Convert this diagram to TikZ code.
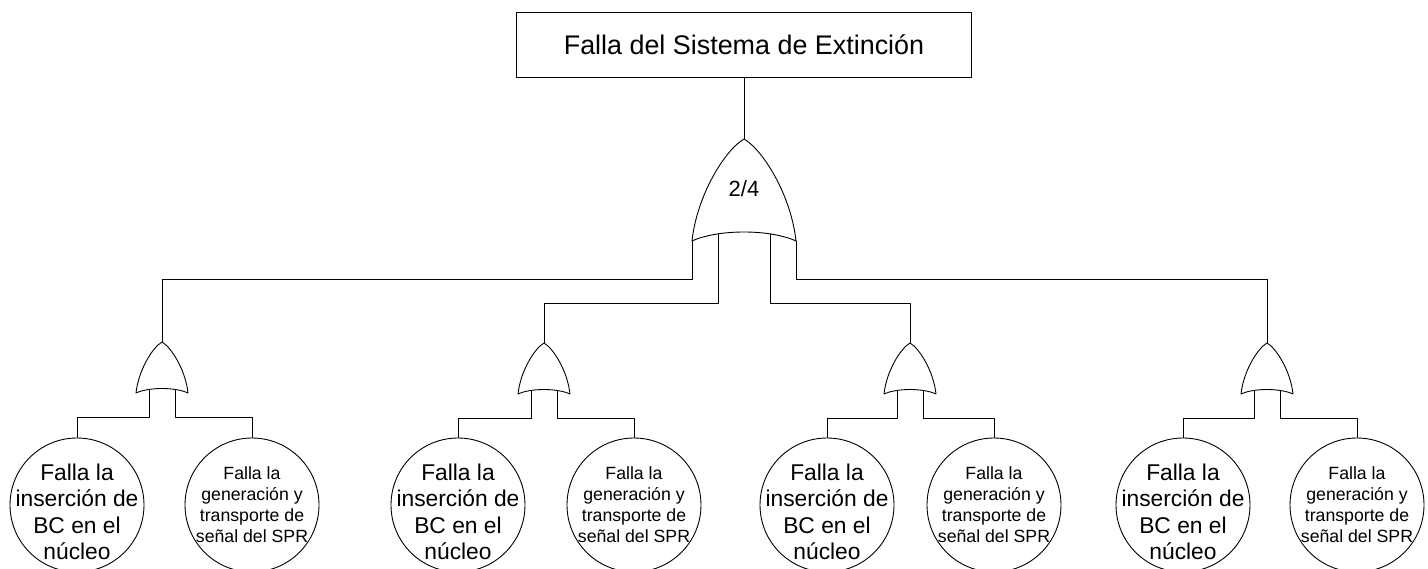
\documentclass[tikz,border=0pt]{standalone}
\usepackage{fontspec}
\setmainfont{Liberation Sans}

\tikzset{
  orgate/.pic={
    \draw (-26,51) .. controls (-23.5,28) and (-9.5,5.5) .. (0,0)
      .. controls (9.5,5.5) and (23.5,28) .. (26,51)
      .. controls (13,45) and (-13,45) .. cycle;
    \coordinate (-out) at (0,0);
    \coordinate (-cl) at (-26,51);
    \coordinate (-cr) at (26,51);
    \coordinate (-il) at (-13,47.5);
    \coordinate (-ir) at (13,47.5);
  },
  event/.style={circle, draw, minimum size=134pt, inner sep=0pt},
  insercion/.style={align=center, inner sep=0pt, font=\fontsize{22.8}{26.5}\selectfont},
  senal/.style={align=center, inner sep=0pt, font=\fontsize{17.7}{21}\selectfont},
}

\begin{document}
\begin{tikzpicture}[x=1pt, y=-1pt, line width=0.9pt, line cap=round, line join=round]
    \useasboundingbox (0,0) rectangle (1428,569);
    \clip (0,0) rectangle (1428,569);

    % Top event
    \node[draw, minimum width=455pt, minimum height=65pt, font=\fontsize{26.9}{30}\selectfont]
      (top) at (744,44.5) {Falla del Sistema de Extinción};

    % Gates
    \pic[scale=2] (G) at (744,139) {orgate};
    \node[font=\fontsize{22}{26}\selectfont] (vote) at (744,189) {2/4};
    \pic (g1) at (162,342) {orgate};
    \pic (g2) at (544,343) {orgate};
    \pic (g3) at (910,343) {orgate};
    \pic (g4) at (1267,343) {orgate};

    % Basic events
    \node[event] (a1) at (77,505) {};
    \node[event] (b1) at (252,505) {};
    \node[event] (a2) at (458,505) {};
    \node[event] (b2) at (634,505) {};
    \node[event] (a3) at (827,505) {};
    \node[event] (b3) at (994,505) {};
    \node[event] (a4) at (1183,505) {};
    \node[event] (b4) at (1357,505) {};

    % Event texts
    \node[insercion] (a1t) at ([yshift=-7pt]a1) {Falla la\\inserción de\\BC en el\\núcleo};
    \node[senal] (b1t) at (b1) {Falla la\\generación y\\transporte de\\señal del SPR};
    \node[insercion] (a2t) at ([yshift=-7pt]a2) {Falla la\\inserción de\\BC en el\\núcleo};
    \node[senal] (b2t) at (b2) {Falla la\\generación y\\transporte de\\señal del SPR};
    \node[insercion] (a3t) at ([yshift=-7pt]a3) {Falla la\\inserción de\\BC en el\\núcleo};
    \node[senal] (b3t) at (b3) {Falla la\\generación y\\transporte de\\señal del SPR};
    \node[insercion] (a4t) at ([yshift=-7pt]a4) {Falla la\\inserción de\\BC en el\\núcleo};
    \node[senal] (b4t) at (b4) {Falla la\\generación y\\transporte de\\señal del SPR};

    % Connections
    \draw (top.south) -- (G-out);
    \draw (G-cl) -- ++(0,38) -| (g1-out);
    \draw (G-il) -- ++(0,69) -| (g2-out);
    \draw (G-ir) -- ++(0,69) -| (g3-out);
    \draw (G-cr) -- ++(0,38) -| (g4-out);

    \draw (g1-il) -- ++(0,28) -| (a1);
    \draw (g1-ir) -- ++(0,28) -| (b1);
    \draw (g2-il) -- ++(0,28) -| (a2);
    \draw (g2-ir) -- ++(0,28) -| (b2);
    \draw (g3-il) -- ++(0,28) -| (a3);
    \draw (g3-ir) -- ++(0,28) -| (b3);
    \draw (g4-il) -- ++(0,28) -| (a4);
    \draw (g4-ir) -- ++(0,28) -| (b4);
  \end{tikzpicture}
\end{document}
